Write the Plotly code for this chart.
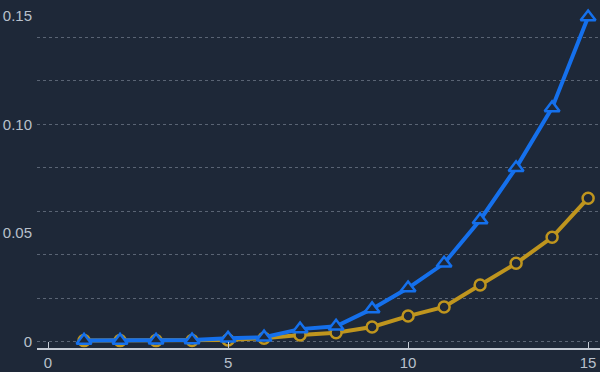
import plotly.graph_objects as go

x_vals = list(range(1, 16))
blue_vals = [0.0005, 0.0005, 0.0006, 0.0007, 0.0015, 0.002, 0.0057, 0.007, 0.015,
             0.0246, 0.036, 0.056, 0.080, 0.1076, 0.1495]
gold_vals = [0.0004, 0.0004, 0.0004, 0.0005, 0.0007, 0.0015, 0.003, 0.004, 0.0067,
             0.0117, 0.0159, 0.026, 0.036, 0.048, 0.066]
y_tick_vals = [0, 0.05, 0.10, 0.15]
y_tick_text = ["0", "0.05", "0.10", "0.15"]
x_tick_vals = [0, 5, 10, 15]

BG = "#1e2838"
BLUE = "#1570ec"
GOLD = "#bf951e"
TXT = "#b8c0cc"

fig = go.Figure()
fig.add_trace(go.Scatter(
    x=x_vals, y=gold_vals, mode="lines+markers",
    line=dict(color=GOLD, width=4),
    marker=dict(symbol="circle", size=11, color=BG, line=dict(color=GOLD, width=2.5)),
    showlegend=False, hoverinfo="skip"))
fig.add_trace(go.Scatter(
    x=x_vals, y=blue_vals, mode="lines+markers",
    line=dict(color=BLUE, width=4),
    marker=dict(symbol="triangle-up", size=13, color=BG, line=dict(color=BLUE, width=2.5)),
    showlegend=False, hoverinfo="skip"))
# invisible trace for the label axis
fig.add_trace(go.Scatter(x=[None], y=[None], yaxis="y2", showlegend=False))

yr = [-0.003, 0.1573]
fig.update_layout(
    width=600, height=372,
    margin=dict(l=37, r=0, t=0, b=24),
    paper_bgcolor=BG, plot_bgcolor=BG,
    font=dict(family="Liberation Sans, Arial, sans-serif", color=TXT, size=15),
    xaxis=dict(range=[-0.306, 15.33], tickvals=x_tick_vals, showgrid=False,
               zeroline=False, showline=True, linecolor="#c4cad4", linewidth=1.5,
               ticks="inside", ticklen=6, tickcolor="#c4cad4", tickwidth=1,
               tickfont=dict(size=15, color=TXT)),
    yaxis=dict(range=yr, dtick=0.02, tick0=0, showgrid=True,
               gridcolor="#5a6474", griddash="dot", gridwidth=1.2,
               showticklabels=False, zeroline=False, showline=False, ticks=""),
    yaxis2=dict(range=yr, overlaying="y", side="left", tickvals=y_tick_vals,
                ticktext=y_tick_text, showgrid=False, zeroline=False, showline=False,
                ticks="", ticklabelstandoff=4,
                tickfont=dict(size=15, color=TXT)),
)

fig.write_html("out.html")
